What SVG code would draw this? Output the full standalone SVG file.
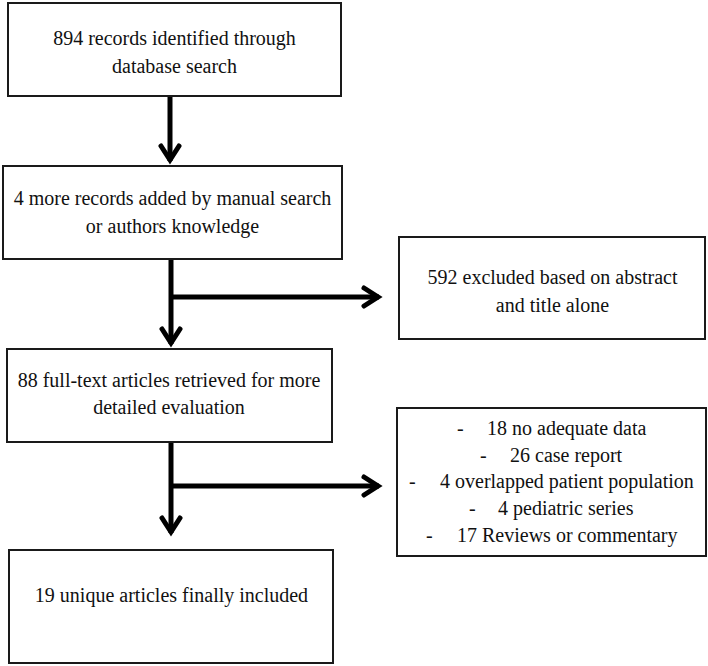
<svg xmlns="http://www.w3.org/2000/svg" width="708" height="666" viewBox="0 0 708 666">
<defs>
<style>
.box{fill:#fff;stroke:#1a1a1a;stroke-width:2}
.t{font-family:"Liberation Serif","Times New Roman",serif;font-size:20px;fill:#111;text-anchor:middle}
.l{font-family:"Liberation Serif","Times New Roman",serif;font-size:20px;fill:#111}
.c{fill:none;stroke:#000;stroke-width:5}
</style>
<marker id="ah" markerUnits="userSpaceOnUse" markerWidth="30" markerHeight="30" refX="0" refY="0" orient="auto" overflow="visible">
<path d="M-15,-9 L-1,0 L-15,9" fill="none" stroke="#000" stroke-width="5" stroke-linecap="round"/>
</marker>
</defs>
<rect width="708" height="666" fill="#fff"/>
<g id="connectors">
<path class="c" d="M170,96 V161" marker-end="url(#ah)"/>
<path class="c" d="M171,259 V344" marker-end="url(#ah)"/>
<path class="c" d="M171,297 H379" marker-end="url(#ah)"/>
<path class="c" d="M171,442 V533" marker-end="url(#ah)"/>
<path class="c" d="M171,486 H379" marker-end="url(#ah)"/>
</g>
<g id="n1">
<rect class="box" x="8" y="3" width="333" height="93"/>
<text class="t" x="174.5" y="45">894 records identified through</text>
<text class="t" x="174.5" y="73">database search</text>
</g>
<g id="n2">
<rect class="box" x="3" y="166" width="339" height="93"/>
<text class="t" x="172.5" y="205">4 more records added by manual search</text>
<text class="t" x="172.5" y="233">or authors knowledge</text>
</g>
<g id="n3">
<rect class="box" x="399" y="237" width="306" height="102"/>
<text class="t" x="552.5" y="284">592 excluded based on abstract</text>
<text class="t" x="552.5" y="312">and title alone</text>
</g>
<g id="n4">
<rect class="box" x="7" y="349" width="325" height="93"/>
<text class="t" x="169" y="387">88 full-text articles retrieved for more</text>
<text class="t" x="169" y="414">detailed evaluation</text>
</g>
<g id="n5">
<rect class="box" x="397" y="408" width="309" height="148"/>
<text class="l" y="435"><tspan x="457">-</tspan><tspan x="487">18 no adequate data</tspan></text>
<text class="l" y="462"><tspan x="480">-</tspan><tspan x="510">26 case report</tspan></text>
<text class="l" y="488"><tspan x="409">-</tspan><tspan x="440">4 overlapped patient population</tspan></text>
<text class="l" y="515"><tspan x="469">-</tspan><tspan x="498">4 pediatric series</tspan></text>
<text class="l" y="542"><tspan x="426">-</tspan><tspan x="457">17 Reviews or commentary</tspan></text>
</g>
<g id="n6">
<rect class="box" x="9" y="550" width="324" height="113"/>
<text class="t" x="171.5" y="602">19 unique articles finally included</text>
</g>
</svg>
